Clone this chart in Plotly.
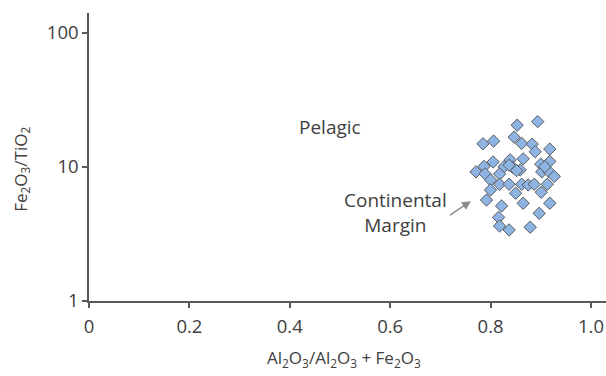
import plotly.graph_objects as go

# Sample ratios: Al2O3/(Al2O3+Fe2O3) vs Fe2O3/TiO2
al_ratio = [0.894, 0.853, 0.785, 0.806, 0.847, 0.862, 0.883, 0.889, 0.918,
            0.805, 0.787, 0.771, 0.789, 0.839, 0.865, 0.827, 0.844, 0.859,
            0.818, 0.800, 0.900, 0.918, 0.902, 0.917, 0.927, 0.818, 0.837,
            0.862, 0.875, 0.887, 0.913, 0.800, 0.850, 0.901, 0.792, 0.822,
            0.865, 0.918, 0.897, 0.816, 0.818, 0.837, 0.879, 0.852, 0.837,
            0.908]
fe_ti = [21.8, 20.5, 14.9, 15.6, 16.7, 15.0, 14.8, 13.0, 13.6,
         10.9, 10.1, 9.2, 8.9, 11.3, 11.5, 10.05, 9.95, 9.5,
         8.87, 8.0, 10.5, 11.0, 9.2, 9.2, 8.5, 7.43, 7.43,
         7.43, 7.34, 7.43, 7.43, 6.74, 6.37, 6.48, 5.67, 5.12,
         5.36, 5.36, 4.51, 4.21, 3.63, 3.39, 3.55, 9.4, 10.3,
         10.05]

x_ticks = [0, 0.2, 0.4, 0.6, 0.8, 1.0]
x_tick_text = ["0", "0.2", "0.4", "0.6", "0.8", "1.0"]
y_ticks = [1, 10, 100]
y_tick_text = ["1", "10", "100"]

FONT = "Open Sans"
TEXT = "#404040"
AXIS = "#595959"

fig = go.Figure()
fig.add_trace(go.Scatter(
    x=al_ratio, y=fe_ti, mode="markers",
    marker=dict(symbol="diamond", size=9.5, color="#8EB4E3",
                line=dict(color="#5a5a5a", width=1)),
    showlegend=False, hoverinfo="x+y",
))

fig.update_layout(
    width=606, height=376,
    margin=dict(l=88.5, r=0, t=13, b=75),
    paper_bgcolor="white", plot_bgcolor="white",
    font=dict(family=FONT, size=18, color=TEXT),
    xaxis=dict(range=[0, 1.03], tickvals=x_ticks, ticktext=x_tick_text,
               showgrid=False, zeroline=False, showline=True,
               linecolor=AXIS, linewidth=1.5, ticks="outside",
               ticklen=5, tickcolor=AXIS, tickwidth=1.5,
               ticklabelstandoff=3,
               tickfont=dict(size=18.5, color=TEXT), automargin=False),
    yaxis=dict(type="log", range=[0, 2.149], tickvals=y_ticks,
               ticktext=y_tick_text, showgrid=False, zeroline=False,
               showline=True, linecolor=AXIS, linewidth=1.5,
               ticks="outside", ticklen=5, tickcolor=AXIS, tickwidth=1.5,
               tickfont=dict(size=18.5, color=TEXT), automargin=False),
)

annotations = [
    # field labels
    dict(x=0.4806, y=1.2985, xref="x", yref="y", text="Pelagic",
         showarrow=False, font=dict(size=19, color=TEXT)),
    dict(x=0.610, y=0.664, xref="x", yref="y",
         text="Continental<br>Margin", align="center",
         showarrow=False, font=dict(size=19, color=TEXT)),
    # pointer toward the sample cluster
    dict(x=0.761, y=0.745, xref="x", yref="y", ax=0.716, ay=0.634,
         axref="x", ayref="y", text="", showarrow=True, arrowhead=2,
         arrowsize=1.2, arrowwidth=1.5, arrowcolor="#8c8c8c"),
    # axis titles
    dict(x=0.4937, y=-0.198, xref="paper", yref="paper",
         xanchor="center", yanchor="middle",
         text="Al<sub>2</sub>O<sub>3</sub>/Al<sub>2</sub>O<sub>3</sub> + Fe<sub>2</sub>O<sub>3</sub>",
         showarrow=False, font=dict(size=17, color=TEXT)),
    dict(x=-0.132, y=0.458, xref="paper", yref="paper", textangle=-90,
         xanchor="center", yanchor="middle",
         text="Fe<sub>2</sub>O<sub>3</sub>/TiO<sub>2</sub>",
         showarrow=False, font=dict(size=17, color=TEXT)),
]
fig.update_layout(annotations=annotations)

fig.write_html("out.html")
